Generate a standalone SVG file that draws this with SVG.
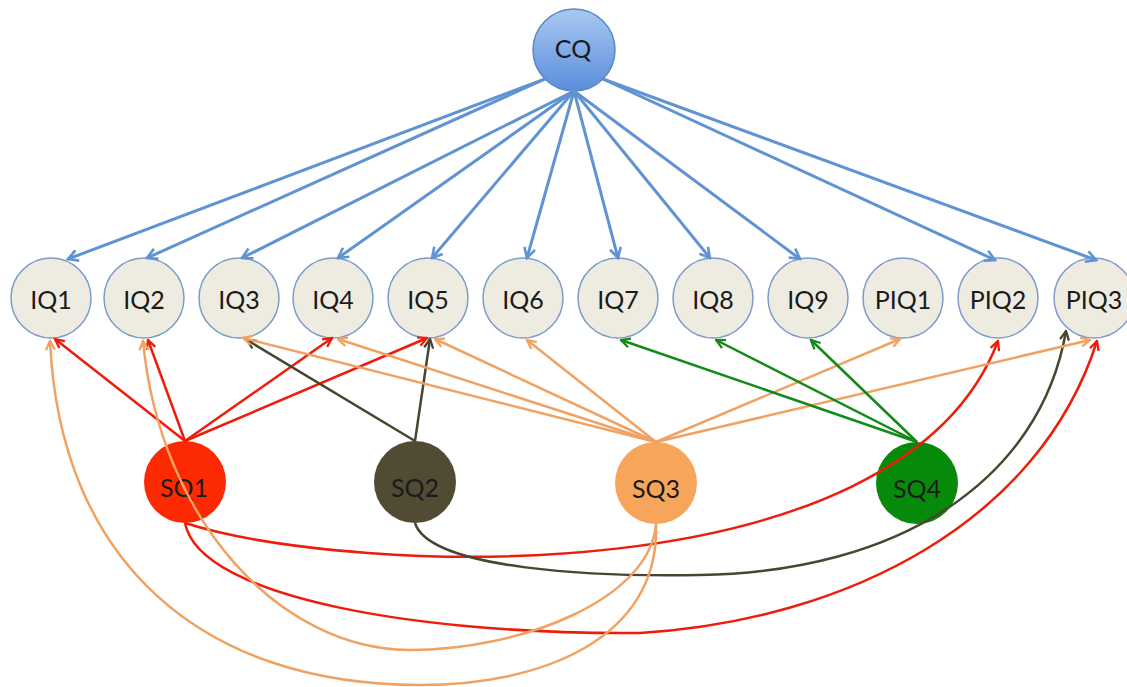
<svg xmlns="http://www.w3.org/2000/svg" width="1127" height="687" viewBox="0 0 1127 687">
<style>
.lbl{font-family:Lato,"Open Sans","Liberation Sans",sans-serif;font-size:25px;text-anchor:middle;fill:#1a1a1a}
.iq{fill:#eeece1;stroke:#7b9ccb;stroke-width:1.5}
.c{fill:none;stroke-width:2.5}
.b{stroke:#6093d2;stroke-width:3}
.r{stroke:#ee1c0a}
.d{stroke:#4a4530}
.o{stroke:#f0a262}
.g{stroke:#118a18}
</style>
<defs>
<linearGradient id="cqg" x1="0" y1="0" x2="0" y2="1">
<stop offset="0" stop-color="#a9c8f2"/>
<stop offset="1" stop-color="#5a8edb"/>
</linearGradient>
<marker id="mb" viewBox="0 0 14 14" refX="12" refY="7" markerWidth="14" markerHeight="14" markerUnits="userSpaceOnUse" orient="auto"><path d="M2,1.5 L12,7 L2,12.5" fill="none" stroke="#6093d2" stroke-width="2.6"/></marker>
<marker id="mr" viewBox="0 0 12 12" refX="10.5" refY="6" markerWidth="12" markerHeight="12" markerUnits="userSpaceOnUse" orient="auto"><path d="M1.5,1.5 L10.5,6 L1.5,10.5" fill="none" stroke="#ee1c0a" stroke-width="2.3"/></marker>
<marker id="md" viewBox="0 0 12 12" refX="10.5" refY="6" markerWidth="12" markerHeight="12" markerUnits="userSpaceOnUse" orient="auto"><path d="M1.5,1.5 L10.5,6 L1.5,10.5" fill="none" stroke="#4a4530" stroke-width="2.3"/></marker>
<marker id="mo" viewBox="0 0 12 12" refX="10.5" refY="6" markerWidth="12" markerHeight="12" markerUnits="userSpaceOnUse" orient="auto"><path d="M1.5,1.5 L10.5,6 L1.5,10.5" fill="none" stroke="#f0a262" stroke-width="2.3"/></marker>
<marker id="mg" viewBox="0 0 12 12" refX="10.5" refY="6" markerWidth="12" markerHeight="12" markerUnits="userSpaceOnUse" orient="auto"><path d="M1.5,1.5 L10.5,6 L1.5,10.5" fill="none" stroke="#118a18" stroke-width="2.3"/></marker>
</defs>
<rect width="1127" height="687" fill="#ffffff"/>

<g id="CQ"><circle cx="574" cy="50" r="41" fill="url(#cqg)" stroke="#5d87c2" stroke-width="1.5"/><text class="lbl" x="573" y="58" font-size="24">CQ</text></g>
<g id="IQ1"><circle class="iq" cx="51" cy="298" r="40"/><text class="lbl" x="51" y="309">IQ1</text></g>
<g id="IQ2"><circle class="iq" cx="144" cy="298" r="40"/><text class="lbl" x="144" y="309">IQ2</text></g>
<g id="IQ3"><circle class="iq" cx="239" cy="298" r="40"/><text class="lbl" x="239" y="309">IQ3</text></g>
<g id="IQ4"><circle class="iq" cx="333" cy="298" r="40"/><text class="lbl" x="333" y="309">IQ4</text></g>
<g id="IQ5"><circle class="iq" cx="428" cy="298" r="40"/><text class="lbl" x="428" y="309">IQ5</text></g>
<g id="IQ6"><circle class="iq" cx="523" cy="298" r="40"/><text class="lbl" x="523" y="309">IQ6</text></g>
<g id="IQ7"><circle class="iq" cx="618" cy="298" r="40"/><text class="lbl" x="618" y="309">IQ7</text></g>
<g id="IQ8"><circle class="iq" cx="713" cy="298" r="40"/><text class="lbl" x="713" y="309">IQ8</text></g>
<g id="IQ9"><circle class="iq" cx="808" cy="298" r="40"/><text class="lbl" x="808" y="309">IQ9</text></g>
<g id="PIQ1"><circle class="iq" cx="903" cy="298" r="40"/><text class="lbl" x="903" y="309">PIQ1</text></g>
<g id="PIQ2"><circle class="iq" cx="998" cy="298" r="40"/><text class="lbl" x="998" y="309">PIQ2</text></g>
<g id="PIQ3"><circle class="iq" cx="1094" cy="298" r="40"/><text class="lbl" x="1094" y="309">PIQ3</text></g>
<g id="SQ1"><circle cx="185" cy="482" r="41" fill="#fb2a02"/><text class="lbl" x="184" y="497" font-size="26" fill="#3a0800">SQ1</text></g>
<g id="SQ2"><circle cx="415" cy="482" r="41" fill="#514b34"/><text class="lbl" x="415" y="497" font-size="26" fill="#111">SQ2</text></g>
<g id="SQ3"><circle cx="656" cy="483" r="41" fill="#f8a55c"/><text class="lbl" x="656" y="498" font-size="26" fill="#2a1505">SQ3</text></g>
<g id="SQ4"><circle cx="917" cy="483" r="41" fill="#078a0a"/><text class="lbl" x="917" y="498" font-size="26" fill="#0d1a0d">SQ4</text></g>

<g id="connectors">
<g class="b" marker-end="url(#mb)" fill="none">
<path d="M545,79 L68,259"/>
<path d="M545,79 L147,258"/>
<path d="M574,91 L242,258"/>
<path d="M574,91 L338,258"/>
<path d="M574,91 L432,258"/>
<path d="M574,91 L527,258"/>
<path d="M574,91 L618,258"/>
<path d="M574,91 L710,258"/>
<path d="M574,91 L800,259"/>
<path d="M603,79 L995,260"/>
<path d="M603,79 L1096,260"/>
</g>
<g class="c r" marker-end="url(#mr)">
<path d="M185,441 L55,339"/>
<path d="M185,441 L148,340"/>
<path d="M185,441 L332,338"/>
<path d="M185,441 L427,338"/>
<path d="M185,523 C350,575 900,600 998,341"/>
<path d="M185,523 C200,600 430,635 640,633 C850,620 1040,520 1097,341"/>
</g>
<g class="c d" marker-end="url(#md)">
<path d="M415,441 L247,340"/>
<path d="M415,441 L430,339"/>
<path d="M415,523 C430,570 600,577 700,575 C900,572 1040,480 1066,331"/>
</g>
<g class="c o" marker-end="url(#mo)">
<path d="M656,442 L243,338"/>
<path d="M656,442 L338,339"/>
<path d="M656,442 L435,339"/>
<path d="M656,442 L527,340"/>
<path d="M656,442 L900,339"/>
<path d="M656,442 L1090,340"/>
<path d="M656,524 C650,600 520,650 410,650 C280,650 160,520 143,341"/>
<path d="M656,524 C660,640 540,685 420,685 C200,685 60,560 50,341"/>
</g>
<g class="c g" marker-end="url(#mg)">
<path d="M917,442 L621,340"/>
<path d="M917,442 L716,340"/>
<path d="M917,442 L811,340"/>
</g>
</g>
</svg>
